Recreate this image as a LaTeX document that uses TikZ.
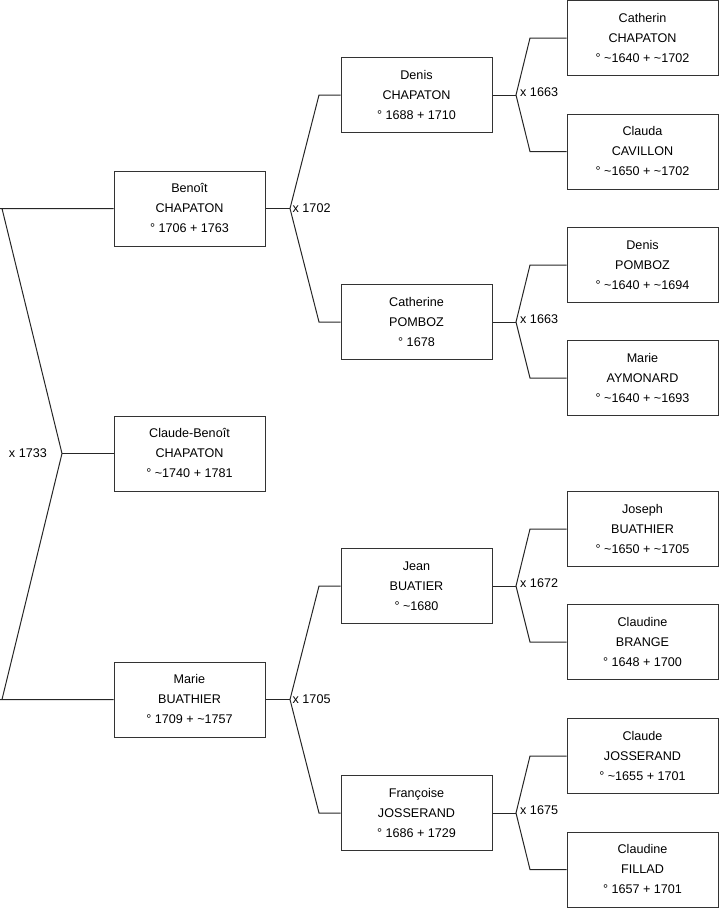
\documentclass[tikz,border=0pt]{standalone}
\usepackage{fontspec}
\setmainfont{Liberation Sans}
\newcommand{\persontext}[1]{\raisebox{2pt}{\begin{tabular}{@{}c@{}}#1\end{tabular}}}
\begin{document}
\begin{tikzpicture}[x=1pt,y=-1pt,
  person/.style={draw=black!80,line width=1pt,minimum width=151pt,minimum height=75pt,inner sep=0pt,font=\fontsize{12.6}{20}\selectfont},
  link/.style={draw=black!85,line width=1pt},
  mlabel/.style={font=\fontsize{12.6}{15}\selectfont,inner sep=0pt}]
\useasboundingbox (0,0) rectangle (719,908);
% column 1
\node[person] (benoit) at (189.5,208.5) {\persontext{Benoît\\CHAPATON\\° 1706 + 1763}};
\node[person] (cb) at (189.5,453.5) {\persontext{Claude-Benoît\\CHAPATON\\° \textasciitilde1740 + 1781}};
\node[person] (marie) at (189.5,699.5) {\persontext{Marie\\BUATHIER\\° 1709 + \textasciitilde1757}};
% column 2
\node[person] (denis) at (416.5,95) {\persontext{Denis\\CHAPATON\\° 1688 + 1710}};
\node[person] (catherine) at (416.5,322) {\persontext{Catherine\\POMBOZ\\° 1678}};
\node[person] (jean) at (416.5,586) {\persontext{Jean\\BUATIER\\° \textasciitilde1680}};
\node[person] (francoise) at (416.5,813) {\persontext{Françoise\\JOSSERAND\\° 1686 + 1729}};
% column 3
\node[person] (catherin) at (642.5,38) {\persontext{Catherin\\CHAPATON\\° \textasciitilde1640 + \textasciitilde1702}};
\node[person] (clauda) at (642.5,151.5) {\persontext{Clauda\\CAVILLON\\° \textasciitilde1650 + \textasciitilde1702}};
\node[person] (denisp) at (642.5,265) {\persontext{Denis\\POMBOZ\\° \textasciitilde1640 + \textasciitilde1694}};
\node[person] (mariea) at (642.5,378) {\persontext{Marie\\AYMONARD\\° \textasciitilde1640 + \textasciitilde1693}};
\node[person] (joseph) at (642.5,529) {\persontext{Joseph\\BUATHIER\\° \textasciitilde1650 + \textasciitilde1705}};
\node[person] (claudineb) at (642.5,642) {\persontext{Claudine\\BRANGE\\° 1648 + 1700}};
\node[person] (claudej) at (642.5,756) {\persontext{Claude\\JOSSERAND\\° \textasciitilde1655 + 1701}};
\node[person] (claudinef) at (642.5,869.5) {\persontext{Claudine\\FILLAD\\° 1657 + 1701}};
% junction coordinates
\coordinate (j0) at (62,453.5);
\coordinate (p0a) at (2,208.5);
\coordinate (p0b) at (2,699.5);
\coordinate (ja) at (290,208.5);
\coordinate (pa1) at (319,95);
\coordinate (pa2) at (319,322);
\coordinate (jb) at (290,699.5);
\coordinate (pb1) at (319,586);
\coordinate (pb2) at (319,813);
\coordinate (jc) at (516,95);
\coordinate (pc1) at (530,38);
\coordinate (pc2) at (530,151.5);
\coordinate (jd) at (516,322);
\coordinate (pd1) at (530,265);
\coordinate (pd2) at (530,378);
\coordinate (je) at (516,586);
\coordinate (pe1) at (530,529);
\coordinate (pe2) at (530,642);
\coordinate (jf) at (516,813);
\coordinate (pf1) at (530,756);
\coordinate (pf2) at (530,869.5);
% connectors
\draw[link] (cb.west) -- (j0);
\draw[link] (benoit.west) -- (0,208.5|-benoit.west) -- (p0a) -- (j0) -- (p0b) -- (0,699.5|-marie.west) -- (marie.west);
\draw[link] (benoit.east) -- (ja);
\draw[link] (denis.west) -- (pa1) -- (ja) -- (pa2) -- (catherine.west);
\draw[link] (marie.east) -- (jb);
\draw[link] (jean.west) -- (pb1) -- (jb) -- (pb2) -- (francoise.west);
\draw[link] (denis.east) -- (jc);
\draw[link] (catherin.west) -- (pc1) -- (jc) -- (pc2) -- (clauda.west);
\draw[link] (catherine.east) -- (jd);
\draw[link] (denisp.west) -- (pd1) -- (jd) -- (pd2) -- (mariea.west);
\draw[link] (jean.east) -- (je);
\draw[link] (joseph.west) -- (pe1) -- (je) -- (pe2) -- (claudineb.west);
\draw[link] (francoise.east) -- (jf);
\draw[link] (claudej.west) -- (pf1) -- (jf) -- (pf2) -- (claudinef.west);
% labels
\node[mlabel,anchor=east] (l0) at (47,453.5) {x 1733};
\node[mlabel,anchor=west] (la) at (292.5,208.5) {x 1702};
\node[mlabel,anchor=west] (lb) at (292.5,699.5) {x 1705};
\node[mlabel,anchor=west] (lc) at (520,92.5) {x 1663};
\node[mlabel,anchor=west] (ld) at (520,319.5) {x 1663};
\node[mlabel,anchor=west] (le) at (520,583.5) {x 1672};
\node[mlabel,anchor=west] (lf) at (520,810.5) {x 1675};
\end{tikzpicture}
\end{document}
